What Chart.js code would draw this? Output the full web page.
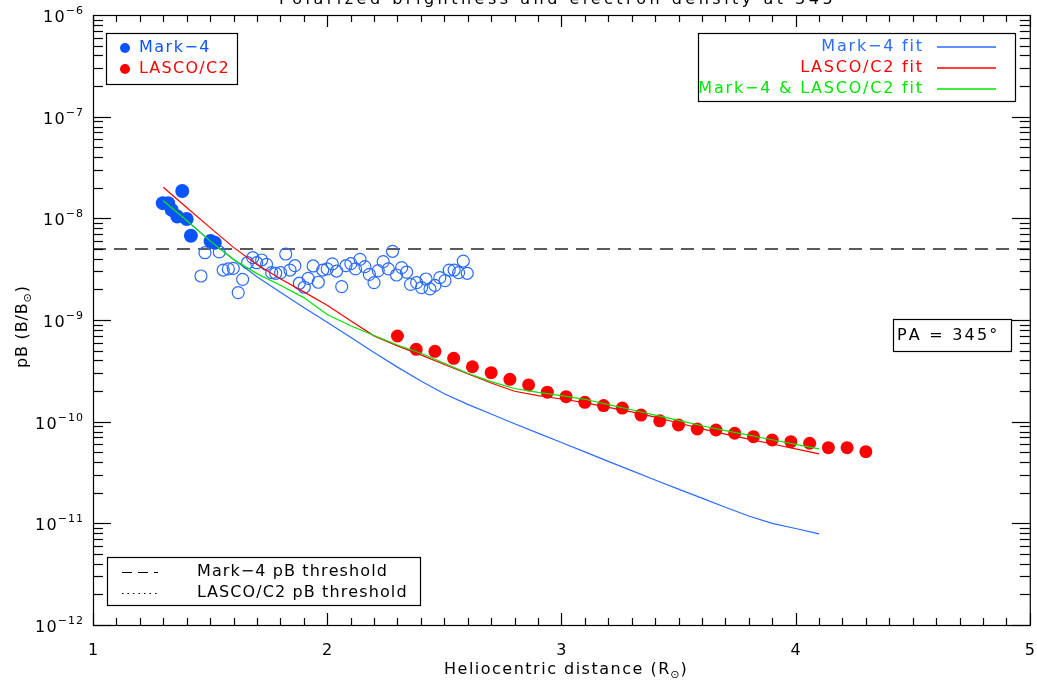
<!DOCTYPE html>
<html>
<head>
<meta charset="utf-8">
<script src="https://cdn.jsdelivr.net/npm/chart.js@4.4.1/dist/chart.umd.min.js"></script>
<style>
  html, body { margin: 0; padding: 0; background: #fff; }
  #wrap { width: 1037px; height: 691px; }
</style>
</head>
<body>
<div id="wrap"><canvas id="pb-chart" width="1037" height="691"></canvas></div>
<script>
// Mark-4 points used in the fit (filled)
const mark4X = [1.298, 1.321, 1.336, 1.360, 1.381, 1.400, 1.418, 1.502, 1.520];
const mark4Y = [1.41e-8, 1.41e-8, 1.21e-8, 1.04e-8, 1.86e-8, 9.86e-9, 6.75e-9, 5.98e-9, 5.75e-9];

// Mark-4 points below threshold (open circles)
const mark4LowX = [1.461, 1.478, 1.539, 1.556, 1.578, 1.599, 1.620, 1.639, 1.660, 1.682,
  1.699, 1.720, 1.741, 1.763, 1.780, 1.801, 1.823, 1.841, 1.862, 1.881,
  1.902, 1.919, 1.940, 1.962, 1.981, 2.000, 2.022, 2.040, 2.062, 2.080,
  2.101, 2.121, 2.140, 2.161, 2.180, 2.200, 2.218, 2.239, 2.261, 2.279,
  2.296, 2.318, 2.339, 2.356, 2.382, 2.403, 2.422, 2.439, 2.460, 2.481,
  2.503, 2.521, 2.542, 2.561, 2.581, 2.598];
const mark4LowY = [2.71e-9, 4.59e-9, 4.67e-9, 3.10e-9, 3.18e-9, 3.22e-9, 1.86e-9, 2.51e-9, 3.66e-9, 4.10e-9,
  3.66e-9, 3.89e-9, 3.53e-9, 2.92e-9, 2.88e-9, 2.92e-9, 4.46e-9, 3.10e-9, 3.42e-9, 2.30e-9,
  2.10e-9, 2.57e-9, 3.40e-9, 2.35e-9, 3.10e-9, 3.18e-9, 3.56e-9, 3.03e-9, 2.13e-9, 3.42e-9,
  3.58e-9, 3.18e-9, 3.95e-9, 3.35e-9, 2.81e-9, 2.33e-9, 3.06e-9, 3.75e-9, 3.18e-9, 4.74e-9,
  2.77e-9, 3.27e-9, 2.96e-9, 2.24e-9, 2.33e-9, 2.08e-9, 2.53e-9, 2.02e-9, 2.19e-9, 2.61e-9,
  2.44e-9, 3.10e-9, 3.10e-9, 2.92e-9, 3.80e-9, 2.88e-9];

// LASCO/C2 points
const c2X = [2.30, 2.38, 2.46, 2.54, 2.62, 2.70, 2.78, 2.86, 2.94, 3.02,
  3.10, 3.18, 3.26, 3.34, 3.42, 3.50, 3.58, 3.66, 3.74, 3.82,
  3.90, 3.98, 4.06, 4.14, 4.22, 4.30];
const c2Y = [6.96e-10, 5.15e-10, 4.92e-10, 4.20e-10, 3.47e-10, 3.03e-10, 2.61e-10, 2.30e-10, 1.95e-10, 1.76e-10,
  1.55e-10, 1.44e-10, 1.36e-10, 1.16e-10, 1.02e-10, 9.27e-11, 8.47e-11, 8.28e-11, 7.69e-11, 7.12e-11,
  6.60e-11, 6.36e-11, 6.13e-11, 5.55e-11, 5.55e-11, 5.07e-11];

// Fitted curves, sampled on the same radii
const fitX = [1.3, 1.4, 1.5, 1.6, 1.7, 1.8, 1.9, 2.0, 2.1, 2.2,
  2.3, 2.4, 2.5, 2.6, 2.7, 2.8, 2.9, 3.0, 3.1, 3.2,
  3.3, 3.4, 3.5, 3.6, 3.7, 3.8, 3.9, 4.0, 4.1];
const fitMark4 = [1.49e-8, 9.52e-9, 6.00e-9, 3.96e-9, 2.67e-9, 1.87e-9, 1.33e-9, 9.48e-10, 6.75e-10, 4.80e-10,
  3.44e-10, 2.51e-10, 1.88e-10, 1.48e-10, 1.19e-10, 9.55e-11, 7.71e-11, 6.23e-11, 5.04e-11, 4.07e-11,
  3.30e-11, 2.67e-11, 2.17e-11, 1.77e-11, 1.44e-11, 1.18e-11, 1.00e-11, 8.89e-12, 7.87e-12];
const fitC2 = [2.02e-8, 1.28e-8, 8.11e-9, 5.18e-9, 3.51e-9, 2.54e-9, 1.89e-9, 1.40e-9, 9.82e-10, 6.98e-10,
  5.57e-10, 4.54e-10, 3.65e-10, 2.96e-10, 2.40e-10, 1.99e-10, 1.80e-10, 1.67e-10, 1.54e-10, 1.38e-10,
  1.25e-10, 1.11e-10, 9.70e-11, 8.49e-11, 7.53e-11, 6.74e-11, 6.03e-11, 5.40e-11, 4.83e-11];
const fitBoth = [1.49e-8, 9.52e-9, 6.00e-9, 3.94e-9, 2.86e-9, 2.20e-9, 1.66e-9, 1.13e-9, 8.79e-10, 7.05e-10,
  5.68e-10, 4.71e-10, 3.75e-10, 2.99e-10, 2.48e-10, 2.12e-10, 1.94e-10, 1.80e-10, 1.66e-10, 1.47e-10,
  1.31e-10, 1.16e-10, 1.03e-10, 9.12e-11, 8.15e-11, 7.36e-11, 6.64e-11, 5.99e-11, 5.41e-11];

// Mark-4 pB threshold
const thresholdX = [1, 5];
const thresholdY = [5.0e-9, 5.0e-9];

// Axis ticks
const xTickValues = [1, 2, 3, 4, 5];
const xTickLabels = ['1', '2', '3', '4', '5'];
const yTickExponents = [-12, -11, -10, -9, -8, -7, -6];

const BLUE = '#0a55ff';
const BLUE_LINE = '#2a6cff';
const RED = '#ff0000';
const GREEN = '#00e600';
const FONT = '"DejaVu Sans", "Liberation Sans", sans-serif';

function pairs(xs, ys) {
  return xs.map((x, i) => ({ x: x, y: ys[i] }));
}

// draw text one character at a time with extra spacing (wide plotter-style lettering)
function spacedWidth(ctx, text, spacing) {
  let w = 0;
  for (const ch of text) w += ctx.measureText(ch).width + spacing;
  return w - spacing;
}
function drawSpaced(ctx, text, x, y, align, spacing) {
  const w = spacedWidth(ctx, text, spacing);
  let cx = align === 'right' ? x - w : align === 'center' ? x - w / 2 : x;
  ctx.textAlign = 'left';
  for (const ch of text) {
    ctx.fillText(ch, cx, y);
    cx += ctx.measureText(ch).width + spacing;
  }
  return cx - spacing;
}

const chartDecor = {
  id: 'chartDecor',
  afterDraw(chart) {
    const { ctx, chartArea: a, scales: { x, y } } = chart;
    ctx.save();
    ctx.strokeStyle = '#000';
    ctx.fillStyle = '#000';
    ctx.lineWidth = 1.2;

    // frame
    ctx.strokeRect(a.left + 0.5, a.top + 0.5, a.right - a.left, a.bottom - a.top);

    const seg = (x1, y1, x2, y2) => {
      ctx.beginPath(); ctx.moveTo(x1, y1); ctx.lineTo(x2, y2); ctx.stroke();
    };

    // x ticks, minor every 0.1
    for (let i = 0; i <= 40; i++) {
      const v = 1 + i * 0.1;
      const px = Math.round(x.getPixelForValue(v)) + 0.5;
      const len = i % 10 === 0 ? 12 : 7;
      seg(px, a.bottom, px, a.bottom - len);
      seg(px, a.top, px, a.top + len);
    }
    // y ticks, log minor
    for (let e = -12; e < -6; e++) {
      for (let m = 1; m <= 9; m++) {
        const py = Math.round(y.getPixelForValue(m * Math.pow(10, e))) + 0.5;
        const len = m === 1 ? 18 : 10;
        seg(a.left, py, a.left + len, py);
        seg(a.right, py, a.right - len, py);
      }
    }

    // x tick labels
    ctx.font = '16px ' + FONT;
    ctx.textBaseline = 'alphabetic';
    xTickValues.forEach((v, i) => {
      drawSpaced(ctx, xTickLabels[i], x.getPixelForValue(v), 655, 'center', 0);
    });

    // y tick labels 10^n
    yTickExponents.forEach(e => {
      const py = y.getPixelForValue(Math.pow(10, e));
      const sup = '\u2212' + String(-e);
      ctx.font = '11px ' + FONT;
      const supW = spacedWidth(ctx, sup, 1);
      const right = a.left - 10;
      drawSpaced(ctx, sup, right - supW, py - 1, 'left', 1);
      ctx.font = '16px ' + FONT;
      drawSpaced(ctx, '10', right - supW - 1, py + 7, 'right', 1.5);
    });

    // x axis title
    ctx.font = '16px ' + FONT;
    let tx = 444;
    tx = drawSpaced(ctx, 'Heliocentric distance (R', tx, 674, 'left', 1.5);
    ctx.font = '11px ' + FONT;
    tx = drawSpaced(ctx, '\u2299', tx + 1, 678, 'left', 0);
    ctx.font = '16px ' + FONT;
    drawSpaced(ctx, ')', tx + 1, 674, 'left', 0);

    // y axis title (rotated)
    ctx.save();
    ctx.translate(27, 326);
    ctx.rotate(-Math.PI / 2);
    ctx.font = '16px ' + FONT;
    let ty = -42;
    ty = drawSpaced(ctx, 'pB (B/B', ty, 0, 'left', 0.8);
    ctx.font = '11px ' + FONT;
    ty = drawSpaced(ctx, '\u2299', ty + 1, 4, 'left', 0);
    ctx.font = '16px ' + FONT;
    drawSpaced(ctx, ')', ty + 1, 0, 'left', 0);
    ctx.restore();

    // title, clipped at the top of the page
    ctx.font = '16px ' + FONT;
    drawSpaced(ctx, 'Polarized brightness and electron density at 345\u00b0', 279, 4, 'left', 3.5);

    const box = (l, t, r, b) => {
      ctx.fillStyle = '#fff';
      ctx.fillRect(l, t, r - l, b - t);
      ctx.strokeStyle = '#000';
      ctx.lineWidth = 1.2;
      ctx.setLineDash([]);
      ctx.strokeRect(l + 0.5, t + 0.5, r - l, b - t);
    };
    const dot = (cx, cy, color) => {
      ctx.fillStyle = color;
      ctx.beginPath(); ctx.arc(cx, cy, 5, 0, Math.PI * 2); ctx.fill();
    };

    ctx.textBaseline = 'middle';
    ctx.font = '16px ' + FONT;

    // data legend
    box(106, 33, 237, 84);
    dot(125, 48, BLUE);
    ctx.fillStyle = BLUE;
    drawSpaced(ctx, 'Mark\u22124', 139, 48, 'left', 1.5);
    dot(125, 69, RED);
    ctx.fillStyle = RED;
    drawSpaced(ctx, 'LASCO/C2', 139, 69, 'left', 1.3);

    // fit legend
    box(698, 33, 1015, 101);
    const fitRows = [
      ['Mark\u22124 fit', BLUE_LINE, 47],
      ['LASCO/C2 fit', RED, 68],
      ['Mark\u22124 & LASCO/C2 fit', GREEN, 89]
    ];
    fitRows.forEach(([label, color, yy]) => {
      ctx.fillStyle = color;
      drawSpaced(ctx, label, 922, yy, 'right', 1.8);
      ctx.strokeStyle = color;
      ctx.lineWidth = 1.5;
      seg(937, yy, 996, yy);
    });

    // threshold legend
    box(107, 557, 420, 605);
    ctx.strokeStyle = '#000';
    ctx.lineWidth = 1.2;
    ctx.setLineDash([10, 6]);
    seg(122, 572.5, 158, 572.5);
    ctx.setLineDash([1.5, 4]);
    seg(122, 593.5, 158, 593.5);
    ctx.setLineDash([]);
    ctx.fillStyle = '#000';
    drawSpaced(ctx, 'Mark\u22124 pB threshold', 197, 572, 'left', 1.1);
    drawSpaced(ctx, 'LASCO/C2 pB threshold', 197, 593, 'left', 1.1);

    // position angle box
    box(893, 319, 1011, 351);
    ctx.fillStyle = '#000';
    drawSpaced(ctx, 'PA = 345\u00b0', 897, 336, 'left', 2.2);

    ctx.restore();
  }
};

const ctx = document.getElementById('pb-chart').getContext('2d');

new Chart(ctx, {
  type: 'scatter',
  data: {
    datasets: [
      {
        label: 'Mark-4 pB threshold',
        data: pairs(thresholdX, thresholdY),
        showLine: true,
        borderColor: '#5a5a5a',
        borderWidth: 2,
        borderDash: [13, 8],
        pointRadius: 0,
        order: 6
      },
      {
        label: 'Mark-4 (below threshold)',
        data: pairs(mark4LowX, mark4LowY),
        pointRadius: 6,
        pointBorderWidth: 1.2,
        pointBorderColor: BLUE_LINE,
        pointBackgroundColor: 'rgba(0,0,0,0)',
        order: 5
      },
      {
        label: 'Mark-4',
        data: pairs(mark4X, mark4Y),
        pointRadius: 7,
        pointBorderWidth: 0,
        pointBackgroundColor: BLUE,
        order: 4
      },
      {
        label: 'LASCO/C2',
        data: pairs(c2X, c2Y),
        pointRadius: 6.5,
        pointBorderWidth: 0,
        pointBackgroundColor: RED,
        order: 4
      },
      {
        label: 'Mark-4 fit',
        data: pairs(fitX, fitMark4),
        showLine: true,
        borderColor: BLUE_LINE,
        borderWidth: 1.2,
        pointRadius: 0,
        order: 3
      },
      {
        label: 'LASCO/C2 fit',
        data: pairs(fitX, fitC2),
        showLine: true,
        borderColor: RED,
        borderWidth: 1.2,
        pointRadius: 0,
        order: 2
      },
      {
        label: 'Mark-4 & LASCO/C2 fit',
        data: pairs(fitX, fitBoth),
        showLine: true,
        borderColor: GREEN,
        borderWidth: 1.2,
        pointRadius: 0,
        order: 1
      }
    ]
  },
  options: {
    responsive: false,
    animation: false,
    events: [],
    layout: {
      padding: { left: 93, top: 15, right: 7, bottom: 66 }
    },
    plugins: {
      legend: { display: false },
      tooltip: { enabled: false }
    },
    scales: {
      x: { type: 'linear', min: 1, max: 5, display: false },
      y: { type: 'logarithmic', min: 1e-12, max: 1e-6, display: false }
    }
  },
  plugins: [chartDecor]
});
</script>
</body>
</html>
